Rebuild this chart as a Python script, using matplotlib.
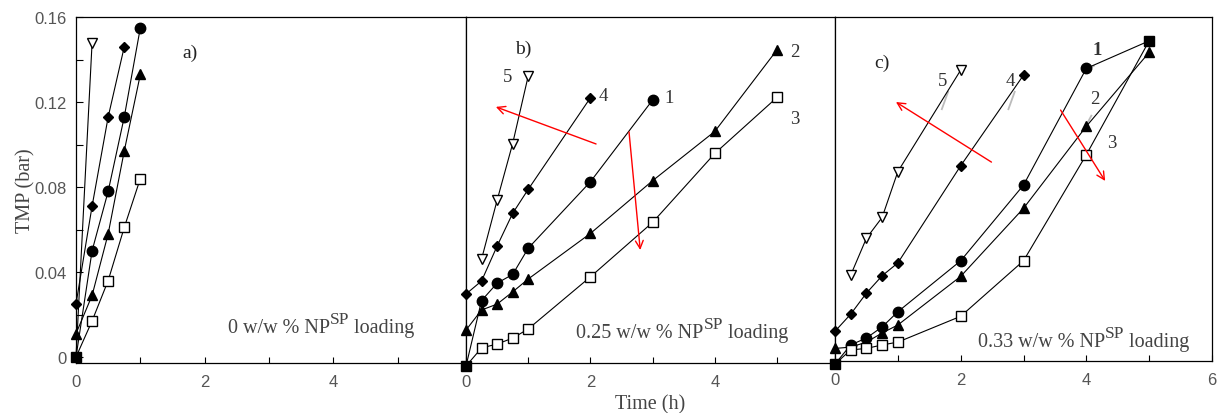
import matplotlib
matplotlib.use("Agg")
import matplotlib.pyplot as plt
import numpy as np

plt.rcParams['font.family'] = ['Liberation Serif', 'DejaVu Serif']
plt.rcParams['mathtext.fontset'] = 'stix'

# ---- data: time (h) and TMP (bar) ----
# panel a) 0 w/w % loading
a_t5 = [0, 0.25];                       a_y5 = [0, 0.148]
a_t4 = [0, 0.25, 0.5, 0.75];            a_y4 = [0.025, 0.071, 0.113, 0.146]
a_t1 = [0, 0.25, 0.5, 0.75, 1];         a_y1 = [0, 0.050, 0.078, 0.113, 0.155]
a_t2 = [0, 0.25, 0.5, 0.75, 1];         a_y2 = [0.011, 0.029, 0.058, 0.097, 0.133]
a_t3 = [0, 0.25, 0.5, 0.75, 1];         a_y3 = [0, 0.017, 0.036, 0.061, 0.084]
a_fill_t = [0];                         a_fill_y = [0]

# panel b) 0.25 w/w % loading
b_t5 = [0.25, 0.5, 0.75, 1];            b_y5 = [0.049, 0.076, 0.102, 0.133]
b_t4 = [0, 0.25, 0.5, 0.75, 1, 2];      b_y4 = [0.033, 0.039, 0.055, 0.070, 0.081, 0.123]
b_t1 = [0, 0.25, 0.5, 0.75, 1, 2, 3];   b_y1 = [0, 0.030, 0.038, 0.042, 0.054, 0.0845, 0.122]
b_t2 = [0, 0.25, 0.5, 0.75, 1, 2, 3, 4, 5]
b_y2 = [0.0165, 0.0257, 0.0284, 0.034, 0.0399, 0.0608, 0.085, 0.1076, 0.145]
b_t3 = [0, 0.25, 0.5, 0.75, 1, 2, 3, 4, 5]
b_y3 = [0, 0.0083, 0.0101, 0.0128, 0.017, 0.0409, 0.0659, 0.0975, 0.1232]
b_fill_t = [0];                         b_fill_y = [0]

# panel c) 0.33 w/w % loading
c_t5 = [0.25, 0.5, 0.75, 1, 2];         c_y5 = [0.041, 0.058, 0.0676, 0.0887, 0.1355]
c_t4 = [0, 0.25, 0.5, 0.75, 1, 2, 3];   c_y4 = [0.0151, 0.023, 0.0327, 0.0407, 0.0466, 0.0914, 0.1332]
c_t1 = [0, 0.25, 0.5, 0.75, 1, 2, 3, 4, 5]
c_y1 = [0, 0.0088, 0.012, 0.0171, 0.0241, 0.0476, 0.0825, 0.1363, 0.149]
c_t2 = [0, 0.25, 0.5, 0.75, 1, 2, 3, 4, 5]
c_y2 = [0.0072, 0.0078, 0.0101, 0.0143, 0.018, 0.0404, 0.0718, 0.1096, 0.1437]
c_t3 = [0, 0.25, 0.5, 0.75, 1, 2, 3, 4, 5]
c_y3 = [0, 0.0065, 0.0072, 0.0088, 0.0101, 0.022, 0.0476, 0.0965, 0.149]
c_fill_t = [0, 5];                      c_fill_y = [0, 0.149]

loading_labels = ['0', '0.25', '0.33']
ytick_vals = [0, 0.04, 0.08, 0.12, 0.16]
ytick_text = ['0', '0.04', '0.08', '0.12', '0.16']

# marker style per series number
styles = {
    1: dict(marker='o', ms=7.5, mfc='black'),
    2: dict(marker='^', ms=6.5, mfc='black'),
    3: dict(marker='s', ms=7, mfc='white'),
    4: dict(marker='D', ms=5.5, mfc='black'),
    5: dict(marker='v', ms=7, mfc='white'),
}

fig = plt.figure(figsize=(12.19, 4.14), dpi=100)
H = 414.0
W = 1219.0
ax_a = fig.add_axes([76 / W, (H - 364) / H, 390 / W, 346 / H])
ax_b = fig.add_axes([466 / W, (H - 364) / H, 369 / W, 346 / H])
ax_c = fig.add_axes([835 / W, (H - 362) / H, 377 / W, 344 / H])

panels = [
    (ax_a, [(5, a_t5, a_y5), (4, a_t4, a_y4), (1, a_t1, a_y1), (2, a_t2, a_y2), (3, a_t3, a_y3)],
     (a_fill_t, a_fill_y), 6.06, 5, -0.0028),
    (ax_b, [(5, b_t5, b_y5), (4, b_t4, b_y4), (1, b_t1, b_y1), (2, b_t2, b_y2), (3, b_t3, b_y3)],
     (b_fill_t, b_fill_y), 5.93, 5, 0.0014),
    (ax_c, [(5, c_t5, c_y5), (4, c_t4, c_y4), (1, c_t1, c_y1), (2, c_t2, c_y2), (3, c_t3, c_y3)],
     (c_fill_t, c_fill_y), 6.0, 6, 0.0014),
]

for ax, series, fill, xmax, tmax, ybot in panels:
    ft, fy = fill
    for num, t, y in series:
        t = np.array(t)
        y = np.array(y)
        ax.plot(t, y, color='black', lw=0.8, clip_on=False, zorder=2)
        keep = np.ones(len(t), bool)
        for px, py in zip(ft, fy):
            keep &= ~((np.isclose(t, px)) & (np.isclose(y, py)))
        st = styles[num]
        ax.plot(t[keep], y[keep], ls='none', marker=st['marker'], ms=st['ms'],
                mfc=st['mfc'], mec='black', mew=1.0, clip_on=False, zorder=3)
    ax.plot(ft, fy, ls='none', marker='s', ms=7, mfc='black', mec='black',
            clip_on=False, zorder=4)
    ax.set_xlim(0, xmax)
    ax.set_ylim(ybot, 0.16)
    ax.set_xticks(np.arange(0, tmax + 1, 1), minor=True)
    ax.set_xticks(np.arange(0, tmax + 1, 2))
    ax.tick_params(axis='x', which='both', direction='in', length=4, width=0.8,
                   pad=8, labelsize=12, labelcolor='#555555', labelfontfamily='Liberation Sans')
    for s in ax.spines.values():
        s.set_linewidth(0.9)

# y axis only on panel a
ax_a.set_yticks(ytick_vals)
ax_a.set_yticklabels(ytick_text)
ax_a.set_yticks(np.arange(0.02, 0.16, 0.04), minor=True)
ax_a.tick_params(axis='y', which='both', direction='in', length=5, width=0.8,
                 pad=7, labelsize=12, labelcolor='#555555', labelfontfamily='Liberation Sans')
for ax in (ax_b, ax_c):
    ax.set_yticks([])
ax_a.set_ylabel('TMP (bar)', fontsize=14.5, color='#444444', labelpad=-1)
ax_b.set_xlabel('Time (h)', fontsize=14.5, color='#444444', labelpad=4)

# panel letters
ax_a.text(1.77, 0.1434, 'a)', fontsize=14, ha='center', va='center', color='#222222')
ax_b.text(0.92, 0.1458, 'b)', fontsize=14, ha='center', va='center', color='#222222')
ax_c.text(0.75, 0.1392, 'c)', fontsize=14, ha='center', va='center', color='#222222')

# loading captions, built from pieces so the superscript stays large
cap_pos = [(ax_a, 2.36, 0.0118), (ax_b, 1.77, 0.0133), (ax_c, 2.27, 0.0083)]
for (ax, x, y), lab in zip(cap_pos, loading_labels):
    t1 = ax.text(x, y, lab + ' w/w % NP', fontsize=14.5, ha='left', va='baseline',
                 color='#444444')
    t2 = ax.annotate('SP', xy=(1, 0.55), xycoords=t1, fontsize=12.5, ha='left',
                     va='bottom', color='#444444')
    ax.annotate(' loading', xy=(1, 0), xycoords=(t2, t1), fontsize=14.5, ha='left',
                va='bottom', color='#444444')

# series numbers
b_nums = [('5', 0.67, 0.1325), ('4', 2.2, 0.1238), ('1', 3.26, 0.1229),
          ('2', 5.29, 0.1444), ('3', 5.29, 0.1133)]
c_nums = [('5', 1.71, 0.1305), ('4', 2.79, 0.1305), ('1', 4.17, 0.1452),
          ('2', 4.13, 0.1222), ('3', 4.40, 0.1023)]
for ax, nums in ((ax_b, b_nums), (ax_c, c_nums)):
    for lab, x, y in nums:
        w = 'bold' if (ax is ax_c and lab == '1') else 'normal'
        ax.text(x, y, lab, fontsize=13.5, ha='center', va='center', color='#333333', fontweight=w)

# faint gray leader strokes in panel c
c_leaders = [((1.80, 0.1255), (1.70, 0.1175)), ((2.86, 0.1255), (2.76, 0.1175)),
             ((4.12, 0.1375), (4.0, 0.1355)), ((4.08, 0.1145), (3.95, 0.1075))]
for (x0, y0), (x1, y1) in c_leaders:
    ax_c.plot([x0, x1], [y0, y1], color='#bbbbbb', lw=1.3, zorder=1)

# red trend arrows
red_arrows = [(ax_b, (2.09, 0.1018), (0.48, 0.1188)), (ax_b, (2.62, 0.1073), (2.80, 0.0532)),
              (ax_c, (2.49, 0.0931), (0.97, 0.1208)), (ax_c, (3.59, 0.1171), (4.30, 0.0844))]
for ax, start, end in red_arrows:
    ax.annotate('', xy=end, xytext=start,
                arrowprops=dict(arrowstyle='->', color='red', lw=1.0,
                                mutation_scale=14, shrinkA=0, shrinkB=0))

fig.savefig('out.png', dpi=100)
